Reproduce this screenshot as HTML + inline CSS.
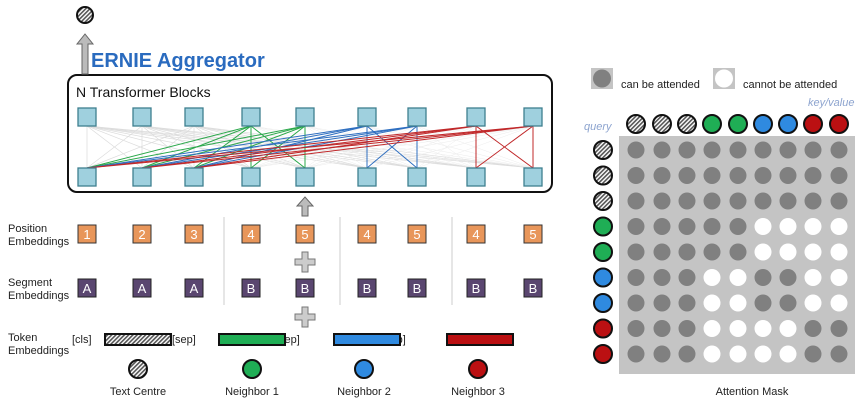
<!DOCTYPE html>
<html><head><meta charset="utf-8"><style>
html,body{margin:0;padding:0;background:#fff;width:864px;height:402px;overflow:hidden}
svg{display:block}
text{font-family:"Liberation Sans","DejaVu Sans",sans-serif}
</style></head><body>
<svg id="s" width="864" height="402" viewBox="0 0 864 402" xmlns="http://www.w3.org/2000/svg">
<defs>
<pattern id="h" width="3" height="3" patternUnits="userSpaceOnUse" patternTransform="rotate(45)">
<rect width="3" height="3" fill="#fff"/><rect width="1.6" height="3" fill="#555"/></pattern>
</defs>
<g id="lines"></g>
<g id="main"></g>
</svg>
<script>
const NS="http://www.w3.org/2000/svg";
const L=document.getElementById('lines'),M=document.getElementById('main');
function el(p,t,a,tx){const e=document.createElementNS(NS,t);for(const k in a)e.setAttribute(k,a[k]);if(tx!==undefined)e.textContent=tx;p.appendChild(e);return e;}
const X=[87,142,194,251,305,367,417,476,533];
const TY=126,BY=168;
el(M,'rect',{x:68,y:75,width:484,height:117,rx:9,fill:'none',stroke:'#111','stroke-width':2});
el(M,'text',{x:76,y:97,'font-size':14,fill:'#111'},'N Transformer Blocks');
el(M,'text',{x:91,y:67,'font-size':20,'font-weight':'bold',fill:'#2a6bbf'},'ERNIE Aggregator');
el(M,'path',{d:'M82,74 L82,44 L77,44 L85,34 L93,44 L88,44 L88,74 Z',fill:'#bbb',stroke:'#666','stroke-width':1});
el(M,'circle',{cx:85,cy:15,r:8,fill:'url(#h)',stroke:'#111','stroke-width':2});
for(let i=0;i<3;i++)for(let j=0;j<9;j++)el(L,'line',{x1:X[i],y1:TY,x2:X[j],y2:BY,stroke:'#dcdcdc','stroke-width':0.7});
for(let i=3;i<9;i++)for(let j=3;j<9;j++)el(L,'line',{x1:X[i],y1:TY,x2:X[j],y2:BY,stroke:'#ececec','stroke-width':0.5});
const groups=[[3,4,'#2aa84a'],[5,6,'#2f6fc0'],[7,8,'#c0282a']];
groups.forEach(g=>{[g[0],g[1]].forEach(i=>{[0,1,2,g[0],g[1]].forEach(j=>{el(L,'line',{x1:X[i],y1:TY,x2:X[j],y2:BY,stroke:g[2],'stroke-width':1});});});});
X.forEach(x=>{el(M,'rect',{x:x-9,y:108,width:18,height:18,fill:'#9fd0de',stroke:'#3f7f8f','stroke-width':1.3});el(M,'rect',{x:x-9,y:168,width:18,height:18,fill:'#9fd0de',stroke:'#3f7f8f','stroke-width':1.3});});
el(M,'path',{d:'M302,216 L302,206 L297,206 L305,197 L313,206 L308,206 L308,216 Z',fill:'#bbb',stroke:'#666','stroke-width':1});
[['Position',232],['Embeddings',245],['Segment',286],['Embeddings',299],['Token',341],['Embeddings',354]].forEach(t=>el(M,'text',{x:8,y:t[1],'font-size':11,fill:'#222'},t[0]));
[224,340,452].forEach(x=>el(M,'line',{x1:x,y1:217,x2:x,y2:305,stroke:'#ccc','stroke-width':1}));
const pos=['1','2','3','4','5','4','5','4','5'],seg=['A','A','A','B','B','B','B','B','B'];
X.forEach((x,i)=>{el(M,'rect',{x:x-9,y:225,width:18,height:18,fill:'#e8965a',stroke:'#333','stroke-width':1});el(M,'text',{x:x,y:239,'font-size':13,fill:'#fff','text-anchor':'middle'},pos[i]);
el(M,'rect',{x:x-9,y:279,width:18,height:18,fill:'#5a4670',stroke:'#222','stroke-width':1});el(M,'text',{x:x,y:293,'font-size':13,fill:'#fff','text-anchor':'middle'},seg[i]);});
[[305,262],[305,317]].forEach(p=>el(M,'path',{d:`M${p[0]-3},${p[1]-10}h6v7h7v6h-7v7h-6v-7h-7v-6h7z`,fill:'#ccc',stroke:'#777','stroke-width':1}));
[['[cls]',72],['[sep]',172],['[sep]',276],['[sep]',382],['[sep]',490]].forEach(t=>el(M,'text',{x:t[1],y:343,'font-size':11,fill:'#222'},t[0]));
[[105,'url(#h)'],[219,'#1fae55'],[334,'#2f8ae0'],[447,'#bb1012']].forEach(b=>el(M,'rect',{x:b[0],y:334,width:66,height:11,fill:b[1],stroke:'#111','stroke-width':2}));
[[138,'url(#h)','Text Centre'],[252,'#1fae55','Neighbor 1'],[364,'#2f8ae0','Neighbor 2'],[478,'#bb1012','Neighbor 3']].forEach(c=>{el(M,'circle',{cx:c[0],cy:369,r:9,fill:c[1],stroke:'#111','stroke-width':2});el(M,'text',{x:c[0],y:395,'font-size':11,fill:'#222','text-anchor':'middle'},c[2]);});
el(M,'rect',{x:591,y:68,width:22,height:21,fill:'#c4c4c4'});el(M,'circle',{cx:602,cy:78.5,r:9,fill:'#808080'});
el(M,'text',{x:621,y:88,'font-size':11,fill:'#222'},'can be attended');
el(M,'rect',{x:713,y:68,width:22,height:21,fill:'#c4c4c4'});el(M,'circle',{cx:724,cy:78.5,r:9,fill:'#fff'});
el(M,'text',{x:743,y:88,'font-size':11,fill:'#222'},'cannot be attended');
el(M,'text',{x:808,y:106,'font-size':11,fill:'#8da4cf','font-style':'italic'},'key/value');
el(M,'text',{x:584,y:130,'font-size':11,fill:'#8da4cf','font-style':'italic'},'query');
el(M,'rect',{x:619,y:136,width:236,height:238,fill:'#c4c4c4'});
const CX=[636,662,687,712,738,763,788,813,839];
const cols=['url(#h)','url(#h)','url(#h)','#1fae55','#1fae55','#2f8ae0','#2f8ae0','#bb1012','#bb1012'];
const grp=[0,0,0,1,1,2,2,3,3];
CX.forEach((x,i)=>el(M,'circle',{cx:x,cy:124,r:9,fill:cols[i],stroke:'#111','stroke-width':2}));
for(let r=0;r<9;r++){const y=150+25.5*r;el(M,'circle',{cx:603,cy:y,r:9,fill:cols[r],stroke:'#111','stroke-width':2});
for(let c=0;c<9;c++){const ok=grp[r]==0||grp[c]==0||grp[r]==grp[c];el(M,'circle',{cx:CX[c],cy:y,r:8.5,fill:ok?'#808080':'#fff'});}}
el(M,'text',{x:752,y:395,'font-size':11,fill:'#222','text-anchor':'middle'},'Attention Mask');
</script>
</body></html>
